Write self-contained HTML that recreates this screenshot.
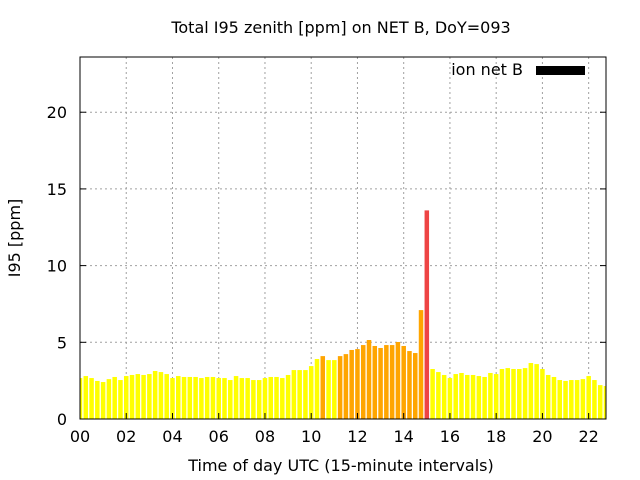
<!DOCTYPE html>
<html><head><meta charset="utf-8"><style>
body{margin:0;background:#fff}
svg{display:block;font-family:"DejaVu Sans","Liberation Sans",sans-serif}
</style></head><body>
<svg id="chart" width="640" height="480">
<text x="341" y="33" text-anchor="middle" font-size="16">Total I95 zenith [ppm] on NET B, DoY=093</text>
<text x="341" y="471" text-anchor="middle" font-size="16">Time of day UTC (15-minute intervals)</text>
<text transform="translate(20,238) rotate(-90)" text-anchor="middle" font-size="16">I95 [ppm]</text>
<g id="grid"></g><g id="bars"></g><g id="axes"></g>
<text x="523" y="75" text-anchor="end" font-size="16">ion net B</text>
<rect x="536" y="66" width="49" height="9" fill="#000"/>
</svg>
<script>
const values=[2.67,2.8,2.67,2.48,2.41,2.6,2.74,2.54,2.8,2.87,2.93,2.87,2.93,3.13,3.06,2.93,2.67,2.8,2.74,2.74,2.74,2.67,2.74,2.74,2.67,2.67,2.54,2.8,2.67,2.67,2.54,2.54,2.67,2.74,2.74,2.67,2.87,3.19,3.19,3.19,3.45,3.91,4.1,3.84,3.84,4.1,4.23,4.5,4.56,4.82,5.15,4.76,4.63,4.82,4.82,5.02,4.76,4.43,4.3,7.1,13.6,3.26,3.06,2.87,2.67,2.93,3.0,2.87,2.87,2.8,2.74,3.0,2.93,3.26,3.32,3.26,3.26,3.32,3.65,3.58,3.26,2.87,2.74,2.54,2.48,2.54,2.54,2.6,2.8,2.54,2.21,2.15];
const xTicks=[0,2,4,6,8,10,12,14,16,18,20,22];
const xTickLabels=["00","02","04","06","08","10","12","14","16","18","20","22"];
const yTicks=[0,5,10,15,20];
const L=80,R=606,T=57,B=419,XMAX=22.75,YMAX=23.6;
const X=h=>L+(h/XMAX)*(R-L), Y=v=>B-(v/YMAX)*(B-T);
const NS="http://www.w3.org/2000/svg";
function mk(t,a,p){const e=document.createElementNS(NS,t);for(const k in a)e.setAttribute(k,a[k]);p.appendChild(e);return e;}
const grid=document.getElementById('grid'),bars=document.getElementById('bars'),axes=document.getElementById('axes');
xTicks.forEach((h,i)=>{
 if(h>0){const g=mk('line',{x1:X(h),x2:X(h),y1:T,y2:B,stroke:'#a0a0a0','stroke-dasharray':'2,3'},grid);
 
 }
 const t=mk('line',{x1:X(h),x2:X(h),y1:B,y2:B-6,stroke:'#000'},axes);
 
 
 const tx=mk('text',{x:X(h),y:B+23,'text-anchor':'middle','font-size':16},axes);tx.textContent=xTickLabels[i];
 
 
});
yTicks.forEach(v=>{
 if(v>0){const g=mk('line',{x1:L,x2:R,y1:Y(v),y2:Y(v),stroke:'#a0a0a0','stroke-dasharray':'2,3'},grid);
 
 }
 const t=mk('line',{x1:L,x2:L+6,y1:Y(v),y2:Y(v),stroke:'#000'},axes);
 
 
 const t2=mk('line',{x1:R,x2:R-6,y1:Y(v),y2:Y(v),stroke:'#000'},axes);
 
 
 const tx=mk('text',{x:L-13,y:Y(v)+6,'text-anchor':'end','font-size':16},axes);tx.textContent=v;
 
 
});
const bw=(R-L)/XMAX*0.25*0.78;
values.forEach((v,i)=>{
 const cx=X(i*0.25);let x0=Math.max(L,cx-bw/2),x1=Math.min(R,cx+bw/2);
 const col=v>10?'#ee4444':(v>=4?'#ffa500':'#ffff00');
 const r=mk('rect',{x:x0,y:Y(v),width:x1-x0,height:B-Y(v),fill:col},bars);
 
 
});
const f=mk('rect',{x:L,y:T,width:R-L,height:B-T,fill:'none',stroke:'#000','stroke-width':1},axes);


</script>
</body></html>
